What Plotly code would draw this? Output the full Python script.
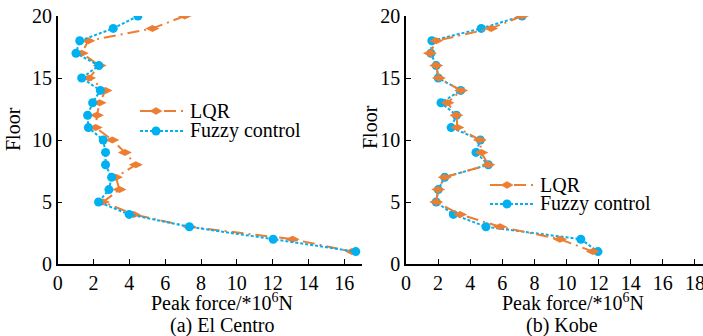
import plotly.graph_objects as go

floors = list(range(20, 0, -1))

# (a) El Centro
elc_lqr = [7.09, 5.29, 1.71, 1.34, 2.34, 1.75, 2.67, 2.34, 2.19, 2.12,
           3.05, 3.75, 4.36, 3.25, 3.45, 2.53, 4.25, 7.35, 13.11, 16.42]
elc_fuzzy = [4.48, 3.10, 1.23, 1.02, 2.30, 1.34, 2.38, 1.95, 1.67, 1.71,
             2.54, 2.67, 2.67, 3.01, 2.86, 2.28, 3.99, 7.35, 12.03, 16.64]

# (b) Kobe
kobe_lqr = [7.23, 5.30, 1.88, 1.49, 1.88, 2.05, 3.43, 2.58, 3.14, 3.20,
            4.60, 4.69, 5.13, 2.41, 2.01, 1.88, 3.37, 5.86, 9.59, 11.64]
kobe_fuzzy = [7.23, 4.69, 1.61, 1.55, 1.88, 2.01, 3.41, 2.18, 3.14, 2.81,
              4.63, 4.36, 5.13, 2.41, 2.01, 1.88, 2.95, 4.98, 10.89, 11.96]

x_ticks_a = list(range(0, 17, 2))
x_ticks_b = list(range(0, 19, 2))
y_ticks = [0, 5, 10, 15, 20]
legend_names = ["LQR", "Fuzzy control"]

ORANGE = "#ED7D31"
BLUE = "#00B0F0"
FONT = "Liberation Serif, DejaVu Serif, serif"
W, H = 703, 336

lqr_dash = "12px,5px,2px,5px"
fz_dash = "3px,2px"
lqr_line = dict(color=ORANGE, width=2, dash=lqr_dash)
lqr_marker = dict(symbol="diamond-wide", size=10, color=ORANGE)
fz_line = dict(color=BLUE, width=2, dash=fz_dash)
fz_marker = dict(symbol="circle", size=9, color=BLUE)

fig = go.Figure()
fig.add_trace(go.Scatter(x=elc_lqr, y=floors, mode="lines+markers", name=legend_names[0],
                         line=lqr_line, marker=lqr_marker, xaxis="x", yaxis="y"))
fig.add_trace(go.Scatter(x=elc_fuzzy, y=floors, mode="lines+markers", name=legend_names[1],
                         line=fz_line, marker=fz_marker, xaxis="x", yaxis="y"))
fig.add_trace(go.Scatter(x=kobe_fuzzy, y=floors, mode="lines+markers", name=legend_names[1],
                         line=fz_line, marker=fz_marker, xaxis="x2", yaxis="y2"))
fig.add_trace(go.Scatter(x=kobe_lqr, y=floors, mode="lines+markers", name=legend_names[0],
                         line=lqr_line, marker=lqr_marker, xaxis="x2", yaxis="y2"))

ax_common = dict(showline=True, linecolor="black", linewidth=1.5, ticks="inside",
                 ticklen=5, tickwidth=1.2, tickcolor="black", showgrid=False,
                 zeroline=False, automargin=False, ticklabeloverflow="allow",
                 tickfont=dict(family=FONT, size=20, color="black"))

y0, y1 = (H - 264) / H, (H - 16) / H

fig.update_layout(
    width=W, height=H, margin=dict(l=0, r=0, t=0, b=0, autoexpand=False),
    paper_bgcolor="white", plot_bgcolor="white",
    font=dict(family=FONT, size=20, color="black"),
    xaxis=dict(domain=[57.7 / W, 361.7 / W], range=[0, 16.97], tickvals=x_ticks_a,
               anchor="y", **ax_common),
    yaxis=dict(domain=[y0, y1], range=[0, 20], tickvals=y_ticks, anchor="x", **ax_common),
    xaxis2=dict(domain=[406 / W, 1.0], range=[0, 18.5], tickvals=x_ticks_b,
                anchor="y2", **ax_common),
    yaxis2=dict(domain=[y0, y1], range=[0, 20], tickvals=y_ticks, anchor="x2", **ax_common),
    showlegend=False,
)

def px(x):
    return x / W

def py(y):
    return 1 - y / H

def ann(text, x, y, angle=0, xanchor="center"):
    fig.add_annotation(text=text, x=px(x), y=py(y), xref="paper", yref="paper",
                       showarrow=False, textangle=angle, xanchor=xanchor, yanchor="middle",
                       font=dict(family=FONT, size=20, color="black"))

def legend_box(x_start, x_marker, x_text, y_rows):
    # LQR row
    yl = y_rows[0]
    fig.add_shape(type="line", xref="paper", yref="paper", x0=px(x_start), x1=px(x_start + 44),
                  y0=py(yl), y1=py(yl), line=dict(color=ORANGE, width=2, dash=lqr_dash))
    d = f"M{px(x_marker - 6)},{py(yl)} L{px(x_marker)},{py(yl - 3.5)} L{px(x_marker + 6)},{py(yl)} L{px(x_marker)},{py(yl + 3.5)} Z"
    fig.add_shape(type="path", xref="paper", yref="paper", path=d,
                  fillcolor=ORANGE, line=dict(color=ORANGE, width=0.5))
    ann(legend_names[0], x_text, yl, xanchor="left")
    # Fuzzy row
    yf = y_rows[1]
    fig.add_shape(type="line", xref="paper", yref="paper", x0=px(x_start), x1=px(x_start + 44),
                  y0=py(yf), y1=py(yf), line=dict(color=BLUE, width=2, dash=fz_dash))
    fig.add_shape(type="circle", xref="paper", yref="paper",
                  x0=px(x_marker - 4.5), x1=px(x_marker + 4.5), y0=py(yf + 4.5), y1=py(yf - 4.5),
                  fillcolor=BLUE, line=dict(color=BLUE, width=0))
    ann(legend_names[1], x_text, yf, xanchor="left")

legend_box(140, 156, 188, [111, 131])
legend_box(490, 507, 538, [185, 204])

ann("Peak force/*10<sup>6</sup>N", 222, 302)
ann("(a) El Centro", 222, 325)
ann("Floor", 13, 129, -90)
ann("Peak force/*10<sup>6</sup>N", 573, 302)
ann("(b) Kobe", 562, 325)
ann("Floor", 370, 127, -90)

fig.write_html("out.html")
